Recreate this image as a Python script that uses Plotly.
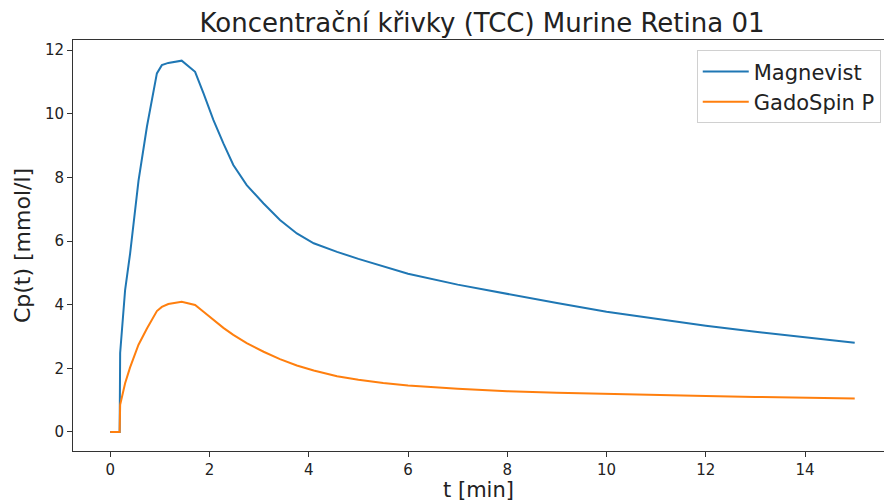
import plotly.graph_objects as go

# Time samples [min]
t = [0, 0.19, 0.2, 0.3, 0.4, 0.57, 0.74, 0.94, 1.04, 1.17, 1.44, 1.71, 1.88,
     2.08, 2.28, 2.48, 2.75, 3.09, 3.42, 3.76, 4.1, 4.57, 5.0, 5.5, 6.0,
     7.0, 8.0, 9.0, 10.0, 11.0, 12.0, 13.0, 14.0, 15.0]

# Plasma concentration Cp(t) [mmol/l]
magnevist = [0, 0, 2.48, 4.46, 5.6, 7.9, 9.6, 11.27, 11.53, 11.6, 11.67,
             11.32, 10.64, 9.8, 9.07, 8.39, 7.76, 7.18, 6.66, 6.24, 5.93,
             5.66, 5.44, 5.2, 4.97, 4.63, 4.33, 4.05, 3.78, 3.55, 3.34,
             3.15, 2.97, 2.8]
gadospin = [0, 0, 0.85, 1.53, 2.03, 2.74, 3.25, 3.8, 3.93, 4.02, 4.09,
            3.99, 3.78, 3.52, 3.27, 3.05, 2.79, 2.52, 2.29, 2.09, 1.93,
            1.75, 1.64, 1.54, 1.46, 1.36, 1.28, 1.23, 1.19, 1.16, 1.13,
            1.1, 1.07, 1.05]

x_ticks = [0, 2, 4, 6, 8, 10, 12, 14]
y_ticks = [0, 2, 4, 6, 8, 10, 12]

FONT = "DejaVu Sans"

fig = go.Figure()
fig.add_trace(go.Scatter(x=t, y=magnevist, mode="lines", name="Magnevist",
                         line=dict(color="#1f77b4", width=2)))
fig.add_trace(go.Scatter(x=t, y=gadospin, mode="lines", name="GadoSpin P",
                         line=dict(color="#ff7f0e", width=2)))

axis_common = dict(
    showgrid=False, zeroline=False, showline=True, linecolor="#333",
    linewidth=1, ticks="outside", ticklen=5, tickwidth=1, tickcolor="#333",
    tickfont=dict(family=FONT, size=15, color="#222"),
)

fig.update_layout(
    width=884, height=502,
    margin=dict(l=73, r=0, t=40, b=51),
    paper_bgcolor="white", plot_bgcolor="white",
    font=dict(family=FONT, color="#222"),
    title=dict(text="Koncentrační křivky (TCC) Murine Retina 01",
               font=dict(family=FONT, size=26, color="#222"),
               x=(482 / 884), xanchor="center", y=0.955, yanchor="middle"),
    xaxis=dict(range=[-0.75, 15.59], tickvals=x_ticks, mirror=True,
               title=dict(text="t [min]", font=dict(family=FONT, size=21),
                          standoff=5),
               **axis_common),
    yaxis=dict(range=[-0.6, 12.32], tickvals=y_ticks,
               title=dict(text="Cp(t) [mmol/l]", font=dict(family=FONT, size=22),
                          standoff=8),
               **axis_common),
    legend=dict(x=0.996, y=0.975, xanchor="right", yanchor="top",
                bgcolor="white", bordercolor="#d0d0d0", borderwidth=1,
                font=dict(family=FONT, size=21, color="#222"),
                itemwidth=46),
    showlegend=True,
)

fig.write_html("out.html")
